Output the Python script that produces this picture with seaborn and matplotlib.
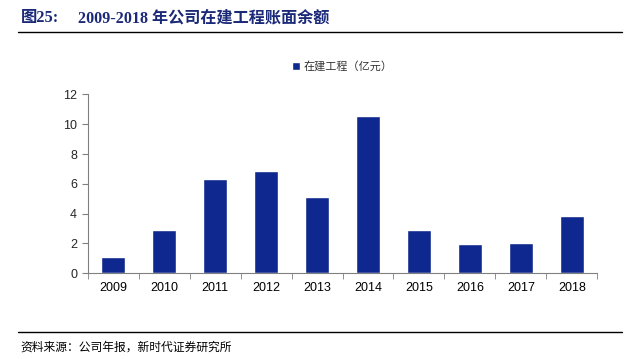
import matplotlib
matplotlib.use('Agg')
import matplotlib.pyplot as plt
import seaborn as sns
import pandas as pd

years = ['2009', '2010', '2011', '2012', '2013', '2014', '2015', '2016', '2017', '2018']
values = [1.07, 2.88, 6.30, 6.84, 5.13, 10.56, 2.92, 1.98, 2.05, 3.86]
series_name = '在建工程（亿元）'
title_num = '图25:'
title_text = '2009-2018 年公司在建工程账面余额'
source_text = '资料来源：公司年报，新时代证券研究所'

sns.set_style('white')
plt.rcParams['font.family'] = ['Liberation Sans', 'Noto Sans CJK SC']

df = pd.DataFrame({'year': years, 'value': values})

fig = plt.figure(figsize=(6.39, 3.59), dpi=100)
ax = fig.add_axes([0.137, 0.239, 0.798, 0.498])

bar_color = '#0F288F'
sns.barplot(data=df, x='year', y='value', color=bar_color, width=0.46,
            saturation=1, ax=ax, label=series_name)

ax.set_ylim(0, 12)
ax.set_xlim(-0.5, 9.5)
ax.set_yticks(range(0, 13, 2))
ax.set_xlabel('')
ax.set_ylabel('')
for s in ['top', 'right']:
    ax.spines[s].set_visible(False)
for s in ['left', 'bottom']:
    ax.spines[s].set_color('#808080')
    ax.spines[s].set_linewidth(0.8)

ax.tick_params(axis='x', which='major', length=0, labelsize=9, pad=6, colors='black')
ax.set_xticks([i - 0.5 for i in range(11)], minor=True)
ax.tick_params(axis='x', which='minor', length=4, color='#808080', direction='out', bottom=True)
ax.tick_params(axis='y', length=4, color='#808080', direction='out', labelsize=9, left=True)

leg = ax.legend(loc='center', bbox_to_anchor=(0.5, 1.157), frameon=False,
                handlelength=0.7, handleheight=0.7, handletextpad=0.3,
                prop={'family': ['Noto Sans CJK SC'], 'size': 8})
for t in leg.get_texts():
    t.set_color('#333333')

# title and frame lines
navy = '#1B2A78'
fig.text(0.032, 0.95, title_num, fontsize=11.8, fontweight='bold', color=navy,
         family=['Liberation Serif', 'Noto Sans CJK SC'], va='center')
fig.text(0.122, 0.95, title_text, fontsize=11.6, fontweight='bold', color=navy,
         family=['Liberation Serif', 'Noto Sans CJK SC'], va='center')
fig.add_artist(plt.Line2D([0.028, 0.973], [0.911, 0.911], color='black', lw=1.0))
fig.add_artist(plt.Line2D([0.028, 0.973], [0.075, 0.075], color='black', lw=1.0))
fig.text(0.032, 0.033, source_text, fontsize=8.5, color='black',
         family=['Noto Sans CJK SC'], va='center')

fig.savefig('out.png', dpi=100)
